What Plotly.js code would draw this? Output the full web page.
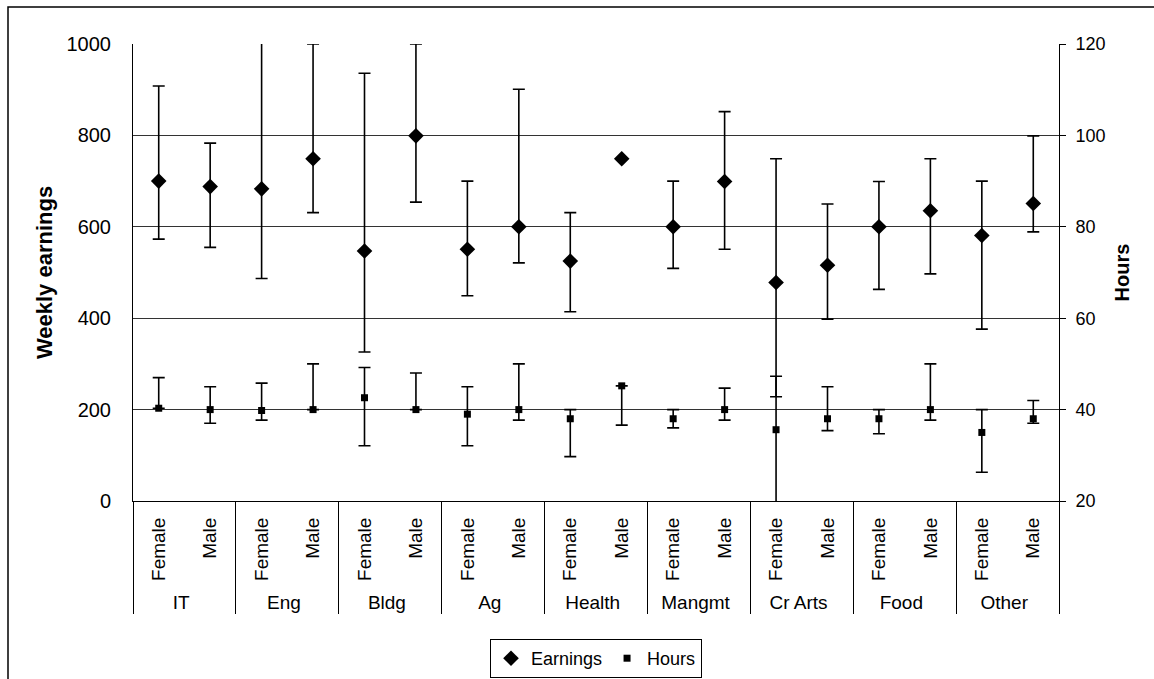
<!DOCTYPE html>
<html>
<head>
<meta charset="utf-8">
<script src="https://cdn.plot.ly/plotly-3.0.1.min.js"></script>
<style>html,body{margin:0;padding:0;background:#fff;}#chart{width:1154px;height:679px;}</style>
</head>
<body>
<div id="chart"></div>
<script>
// ---- data ----
const groups = ["IT", "Eng", "Bldg", "Ag", "Health", "Mangmt", "Cr Arts", "Food", "Other"];
const sexes = ["Female", "Male"];

// Weekly earnings (Female, Male per group)
const earnings  = [700, 688, 683, 749, 547, 799, 551, 600, 525, 749, 600, 699, 478, 516, 600, 635, 581, 651];
const earnHigh  = [908, 783, 1016, 1000, 936, 1000, 700, 901, 631, 749, 700, 852, 749, 650, 699, 749, 700, 799];
const earnLow   = [573, 555, 487, 631, 326, 654, 449, 521, 414, 749, 509, 551, 228, 398, 463, 497, 376, 589];

// Hours
const hours     = [40.3, 40, 39.8, 40, 42.6, 40, 39, 40, 38, 45.2, 38, 40, 35.6, 38, 38, 40, 35, 38];
const hoursHigh = [47, 45, 45.8, 50, 49.2, 48, 45, 50, 40, 45.2, 40, 44.7, 47.3, 45, 40, 50, 40, 42];
const hoursLow  = [40.3, 37, 37.7, 40, 32.1, 40, 32.1, 37.7, 29.7, 36.6, 36, 37.7, 19, 35.4, 34.7, 37.7, 26.3, 37];

// ---- build multicategory x ----
const xOuter = [], xInner = [];
groups.forEach(g => sexes.forEach(s => { xOuter.push(g); xInner.push(s); }));
const xCats = [xOuter, xInner];

const FONT = "Liberation Sans, Arial, sans-serif";
const errStyle = {type: "data", color: "#000", thickness: 1.6, width: 6, visible: true};

const traces = [
  {
    name: "Earnings",
    type: "scatter", mode: "markers",
    x: xCats, y: earnings, yaxis: "y",
    marker: {symbol: "diamond", size: 12, color: "#000"},
    error_y: Object.assign({}, errStyle, {
      symmetric: false,
      array: earnHigh.map((h, i) => h - earnings[i]),
      arrayminus: earnLow.map((l, i) => earnings[i] - l)
    })
  },
  {
    name: "Hours",
    type: "scatter", mode: "markers",
    x: xCats, y: hours, yaxis: "y2",
    marker: {symbol: "square", size: 7, color: "#000"},
    error_y: Object.assign({}, errStyle, {
      symmetric: false,
      array: hoursHigh.map((h, i) => h - hours[i]),
      arrayminus: hoursLow.map((l, i) => hours[i] - l)
    })
  }
];

// plot area in px: left 133, right 1059, top 44, bottom 501
const W = 1154, H = 679, L = 133, R = 1059, T = 44, B = 501;
const pw = R - L, ph = B - T;
const px = v => (v - L) / pw;
const py = v => (B - v) / ph;

const layout = {
  width: W, height: H,
  margin: {l: L, r: W - R, t: T, b: H - B, pad: 0, autoexpand: false},
  paper_bgcolor: "#fff", plot_bgcolor: "#fff",
  font: {family: FONT, size: 18, color: "#000"},
  showlegend: true,
  legend: {
    orientation: "h", x: 0.5, xanchor: "center",
    yref: "container", y: 1 - 639 / H, yanchor: "top",
    bordercolor: "#000", borderwidth: 1, font: {size: 18, family: FONT},
    itemwidth: 30, tracegroupgap: 0
  },
  xaxis: {
    type: "multicategory",
    range: [-0.5, 17.5], autorange: false,
    showline: true, linecolor: "#000", linewidth: 1,
    showgrid: false, zeroline: false,
    ticks: "", tickangle: -90,
    ticklabelstandoff: 8,
    tickfont: {size: 19, family: FONT},
    showdividers: true, dividercolor: "#000", dividerwidth: 1
  },
  yaxis: {
    range: [0, 1000], dtick: 200, tick0: 0,
    showline: true, linecolor: "#000", linewidth: 1,
    showgrid: true, gridcolor: "#333", gridwidth: 1,
    zeroline: false, ticks: "",
    tickfont: {size: 20, family: FONT},
    ticklabelstandoff: 17,
    title: {text: "Weekly earnings", font: {size: 22, family: FONT, weight: "bold"}, standoff: 7}
  },
  yaxis2: {
    range: [20, 120], dtick: 20, tick0: 20,
    overlaying: "y", side: "right",
    showline: true, linecolor: "#000", linewidth: 1,
    showgrid: false, zeroline: false,
    ticks: "outside", ticklen: 6, tickcolor: "#000",
    tickfont: {size: 18, family: FONT},
    ticklabelstandoff: 6,
    title: {text: "Hours", font: {size: 20, family: FONT, weight: "bold"}, standoff: 10}
  },
  shapes: [
    {type: "rect", xref: "paper", yref: "paper",
     x0: px(8), x1: px(1170), y0: py(700), y1: py(7),
     line: {color: "#000", width: 1.5}, fillcolor: "rgba(0,0,0,0)", layer: "below"}
  ]
};

Plotly.newPlot("chart", traces, layout, {displayModeBar: false, staticPlot: true});
</script>
</body>
</html>
